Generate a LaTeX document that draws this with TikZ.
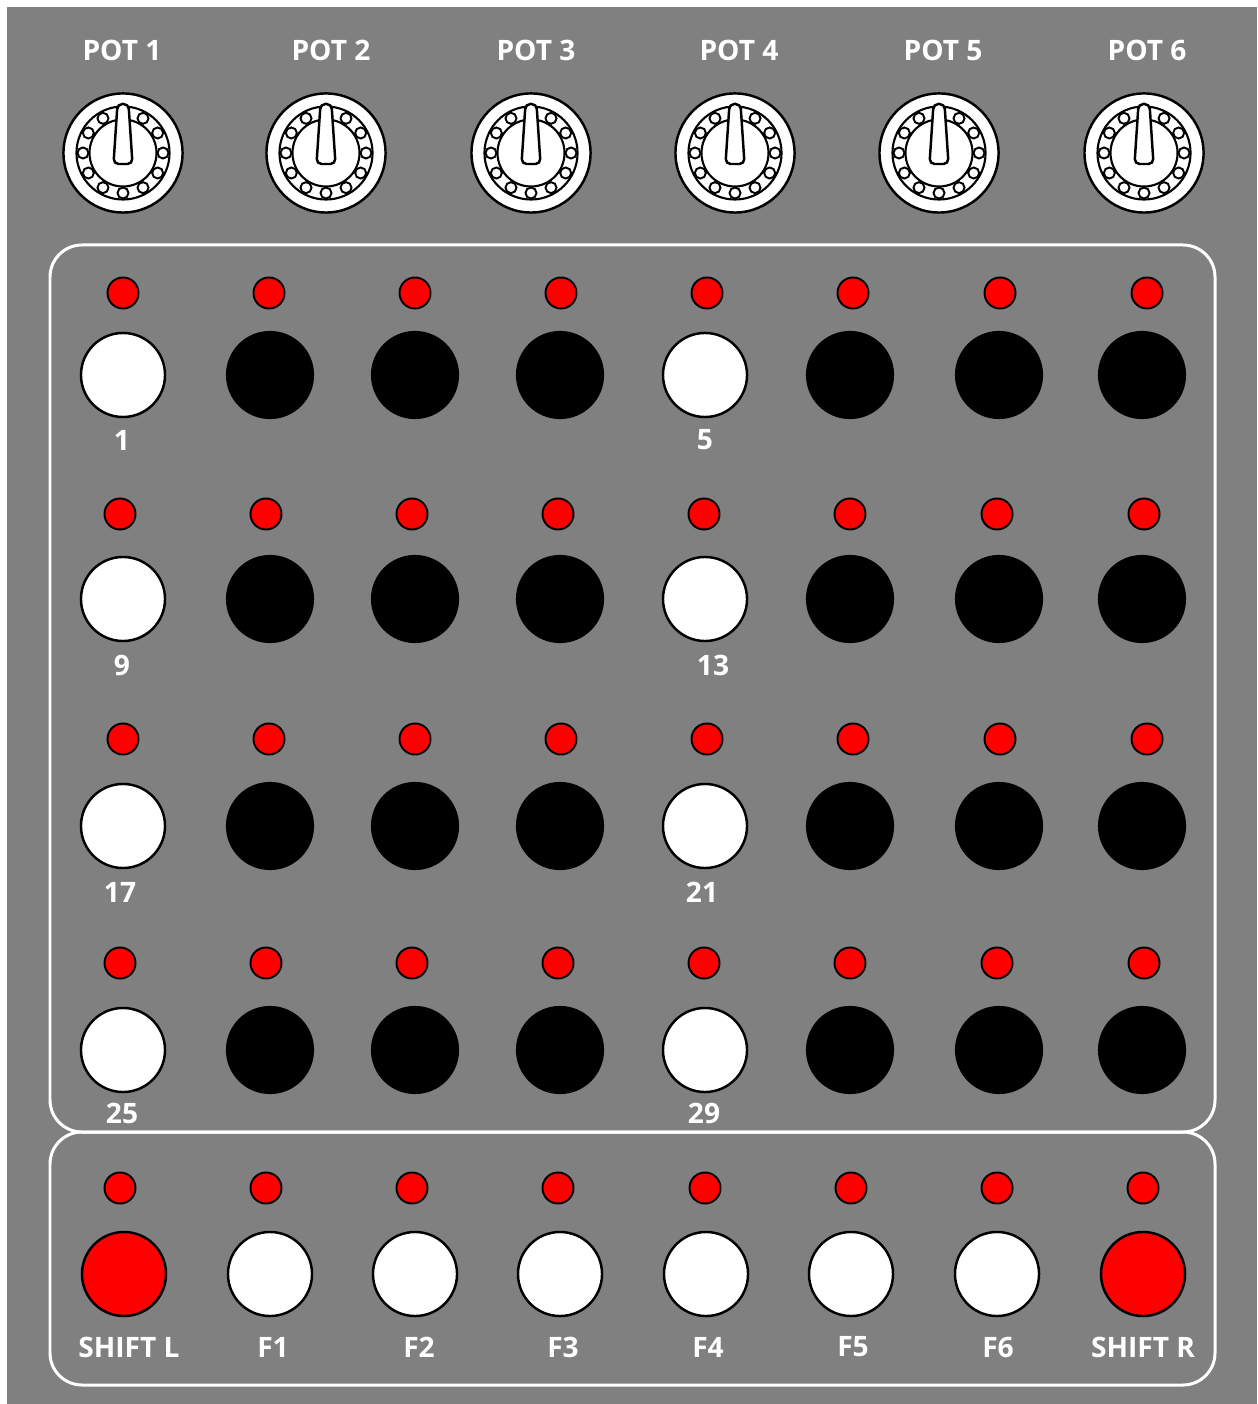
\documentclass[tikz,border=0pt]{standalone}
\usepackage{fontspec}
\setmainfont{Open Sans}
\definecolor{panelgrey}{RGB}{128,128,128}
\tikzset{
  led/.style={circle, fill=red, draw=black, line width=0.55pt, minimum size=0.31cm, inner sep=0pt},
  wbtn/.style={circle, fill=white, draw=black, line width=0.7pt, minimum size=0.84cm, inner sep=0pt},
  bbtn/.style={circle, fill=black, draw=black, line width=0.6pt, minimum size=0.86cm, inner sep=0pt},
  rbtn/.style={circle, fill=red, draw=black, line width=0.7pt, minimum size=0.84cm, inner sep=0pt},
  lbl/.style={text=white, font=\bfseries\fontsize{8}{9}\selectfont, inner sep=0pt},
  frame/.style={draw=white, line width=0.85pt, rounded corners=0.32cm},
  potbody/.style={circle, fill=white, draw=black, line width=0.7pt, minimum size=1.19cm, inner sep=0pt},
  pot/.pic={
    \node[potbody] (-body) at (0,0) {};
    \draw[line width=0.6pt] (0,0) circle[radius=0.465cm];
    \draw[line width=0.6pt] (0,0) circle[radius=0.335cm];
    \foreach \a in {0,30,...,330}
      \draw[fill=white, line width=0.55pt] (\a:0.40cm) circle[radius=0.055cm];
    \draw[fill=white, line width=0.7pt, rounded corners=0.05cm]
      (-0.055cm,0.49cm) -- (0.055cm,0.49cm) -- (0.095cm,-0.11cm) -- (-0.095cm,-0.11cm) -- cycle;
  }
}
\begin{document}
\begin{tikzpicture}[x=0.01cm, y=-0.01cm]
  % page and background
  \useasboundingbox (0,0) rectangle (1257,1404);
  \fill[white] (0,0) rectangle (1257,1404);
  \fill[panelgrey] (7,7) rectangle (1257,1404);

  % panels
  \draw[frame] (50,245) rectangle (1215,1132);
  \draw[frame] (50,1132) rectangle (1215,1385);

  % pots
  \foreach \i/\px/\lx in {1/123/122, 2/326/331, 3/531/536, 4/735/739, 5/939/943, 6/1144/1147} {
    \pic (pot\i) at (\px,153) {pot};
    \node[lbl] (potlbl\i) at (\lx,50) {POT \i};
  }

  % grid rows
  \foreach \r/\ly/\by in {1/293/375, 2/514/599, 3/739/826, 4/963/1050} {
    \pgfmathsetmacro{\off}{mod(\r,2)==1 ? 0 : -3}
    \foreach \c/\lx/\bx/\kind in {1/123/123/wbtn, 2/269/270/bbtn, 3/415/415/bbtn, 4/561/560/bbtn,
                                  5/707/705/wbtn, 6/853/850/bbtn, 7/1000/999/bbtn, 8/1147/1142/bbtn} {
      \node[led] (led-\r-\c) at (\lx+\off,\ly) {};
      \node[\kind] (btn-\r-\c) at (\bx,\by) {};
    }
  }

  % grid numbers
  \foreach \n/\x/\y in {1/122/440, 5/705/440, 9/122/665, 13/713/665,
                        17/120/892, 21/702/892, 25/122/1113, 29/704/1113} {
    \node[lbl] (num\n) at (\x,\y) {\n};
  }

  % bottom row
  \foreach \c/\lx/\bx/\kind/\tx/\txt in {1/120/124/rbtn/129/{SHIFT L}, 2/266/270/wbtn/273/F1,
      3/412/415/wbtn/419/F2, 4/558/560/wbtn/563/F3, 5/705/706/wbtn/708/F4,
      6/851/851/wbtn/853/F5, 7/997/997/wbtn/998/F6, 8/1143/1143/rbtn/1143/{SHIFT R}} {
    \node[led] (fled-\c) at (\lx,1188) {};
    \node[\kind] (fbtn-\c) at (\bx,1274) {};
    \node[lbl] (flbl-\c) at (\tx,1347) {\txt};
  }
\end{tikzpicture}
\end{document}
